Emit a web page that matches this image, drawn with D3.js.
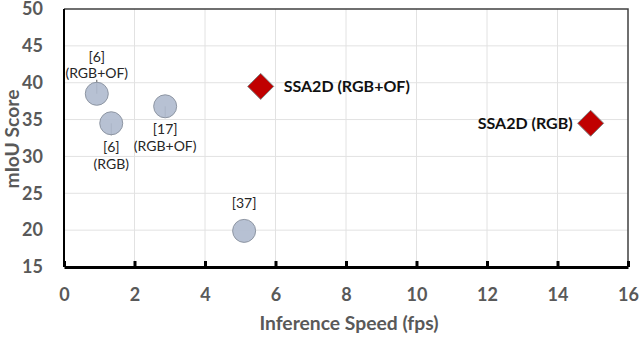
<!DOCTYPE html>
<html>
<head>
<meta charset="utf-8">
<script src="https://cdn.jsdelivr.net/npm/d3@7"></script>
<style>
  body { margin: 0; background: #fff; }
  text { font-family: Lato, "Open Sans", sans-serif; }
</style>
</head>
<body>
<script>
// methods compared: speed (fps) vs mIoU
var baseNames = ["[6]|(RGB+OF)", "[6]|(RGB)", "[17]|(RGB+OF)", "[37]"];
var baseSpeed = [0.93, 1.34, 2.87, 5.11];
var baseScore = [38.5, 34.5, 36.8, 19.9];

var oursNames = ["SSA2D (RGB+OF)", "SSA2D (RGB)"];
var oursSpeed = [5.58, 14.94];
var oursScore = [39.5, 34.5];

var xTicks = [0, 2, 4, 6, 8, 10, 12, 14, 16];
var yTicks = [15, 20, 25, 30, 35, 40, 45, 50];

var width = 640, height = 337;
var margin = {top: 9, right: 12, bottom: 70, left: 64};

var svg = d3.select("body").append("svg")
  .attr("width", width)
  .attr("height", height);

var x = d3.scaleLinear().domain([0, 16]).range([margin.left, width - margin.right]);
var y = d3.scaleLinear().domain([15, 50]).range([height - margin.bottom, margin.top]);

// grid
svg.append("g").selectAll("line.vg")
  .data(xTicks.slice(1, -1))
  .enter().append("line")
    .attr("x1", function(d) { return x(d); })
    .attr("x2", function(d) { return x(d); })
    .attr("y1", y(50)).attr("y2", y(15))
    .attr("stroke", "#e2e2e2").attr("stroke-width", 1);
svg.append("g").selectAll("line.hg")
  .data(yTicks.slice(1, -1))
  .enter().append("line")
    .attr("x1", x(0)).attr("x2", x(16))
    .attr("y1", function(d) { return y(d); })
    .attr("y2", function(d) { return y(d); })
    .attr("stroke", "#e2e2e2").attr("stroke-width", 1);

// frame
svg.append("path")
  .attr("d", "M" + x(0) + "," + y(50) + "H" + x(16) + "V" + y(15))
  .attr("fill", "none").attr("stroke", "#404040").attr("stroke-width", 1.5);
svg.append("line")
  .attr("x1", x(0)).attr("x2", x(0)).attr("y1", y(50)).attr("y2", y(15))
  .attr("stroke", "#000").attr("stroke-width", 2);

// x axis: thick line, ticks pointing inside
var xAxis = svg.append("g")
  .attr("transform", "translate(0," + y(15) + ")")
  .call(d3.axisBottom(x).tickValues(xTicks).tickSizeInner(-6).tickSizeOuter(0).tickPadding(21));
xAxis.select(".domain").attr("stroke", "#000").attr("stroke-width", 3);
xAxis.selectAll(".tick line").attr("stroke", "#000").attr("stroke-width", 3);
xAxis.selectAll(".tick text")
  .attr("fill", "#595959").attr("font-size", 18).attr("font-weight", "bold")
  .style("font-family", "Lato, sans-serif");

// y axis labels only
var yAxis = svg.append("g")
  .attr("transform", "translate(" + x(0) + ",0)")
  .call(d3.axisLeft(y).tickValues(yTicks).tickSize(0).tickPadding(21));
yAxis.select(".domain").remove();
yAxis.selectAll(".tick text")
  .attr("fill", "#595959").attr("font-size", 18).attr("font-weight", "bold")
  .style("font-family", "Lato, sans-serif");

// axis titles
svg.append("text")
  .attr("x", 349).attr("y", 330)
  .attr("text-anchor", "middle")
  .attr("fill", "#595959").attr("font-size", 19.3).attr("font-weight", "bold")
  .text("Inference Speed (fps)");
svg.append("text")
  .attr("transform", "translate(19,139)rotate(-90)")
  .attr("text-anchor", "middle")
  .attr("fill", "#595959").attr("font-size", 19.3).attr("font-weight", "bold")
  .text("mIoU Score");

// baseline points
var base = baseNames.map(function(n, i) {
  return {name: n, speed: baseSpeed[i], score: baseScore[i]};
});
// leader tick direction per point (dy in px), label offset
var leader = [-14, 12, 11, 0];
var labelDy = [-32, 29, 28, -23];

svg.append("g").selectAll("line")
  .data(base)
  .enter().append("line")
    .attr("x1", function(d) { return x(d.speed); })
    .attr("x2", function(d) { return x(d.speed); })
    .attr("y1", function(d) { return y(d.score); })
    .attr("y2", function(d, i) { return y(d.score) + leader[i]; })
    .attr("stroke", "#555").attr("stroke-width", 1);

svg.append("g").selectAll("circle")
  .data(base)
  .enter().append("circle")
    .attr("cx", function(d) { return x(d.speed); })
    .attr("cy", function(d) { return y(d.score); })
    .attr("r", 11.5)
    .attr("fill", "#b1bccf").attr("fill-opacity", 0.92)
    .attr("stroke", "#8e96a3").attr("stroke-width", 1);

var bl = svg.append("g").selectAll("text")
  .data(base)
  .enter().append("text")
    .attr("x", function(d) { return x(d.speed); })
    .attr("y", function(d, i) { return y(d.score) + labelDy[i]; })
    .attr("text-anchor", "middle")
    .attr("fill", "#262626").attr("font-size", 14);
bl.each(function(d) {
  var parts = d.name.split("|");
  var t = d3.select(this);
  parts.forEach(function(p, k) {
    t.append("tspan").attr("x", x(d.speed)).attr("dy", k === 0 ? 0 : 16.5).text(p);
  });
});

// our method: red diamonds
var ours = oursNames.map(function(n, i) {
  return {name: n, speed: oursSpeed[i], score: oursScore[i]};
});
svg.append("line")
  .attr("x1", x(ours[0].speed)).attr("x2", x(ours[0].speed) + 11)
  .attr("y1", y(ours[0].score)).attr("y2", y(ours[0].score))
  .attr("stroke", "#555").attr("stroke-width", 1);
svg.append("g").selectAll("path")
  .data(ours)
  .enter().append("path")
    .attr("transform", function(d) { return "translate(" + x(d.speed) + "," + y(d.score) + ")"; })
    .attr("d", "M0,-13L13,0L0,13L-13,0Z")
    .attr("fill", "#c00000").attr("stroke", "#7f7f7f").attr("stroke-width", 1);

svg.append("g").selectAll("text")
  .data(ours)
  .enter().append("text")
    .attr("x", function(d, i) { return i === 0 ? x(d.speed) + 23 : x(d.speed) - 18; })
    .attr("y", function(d) { return y(d.score); })
    .attr("dy", "0.35em")
    .attr("text-anchor", function(d, i) { return i === 0 ? "start" : "end"; })
    .attr("fill", "#111").attr("font-size", 16).attr("font-weight", "bold")
    .text(function(d) { return d.name; });
</script>
</body>
</html>
